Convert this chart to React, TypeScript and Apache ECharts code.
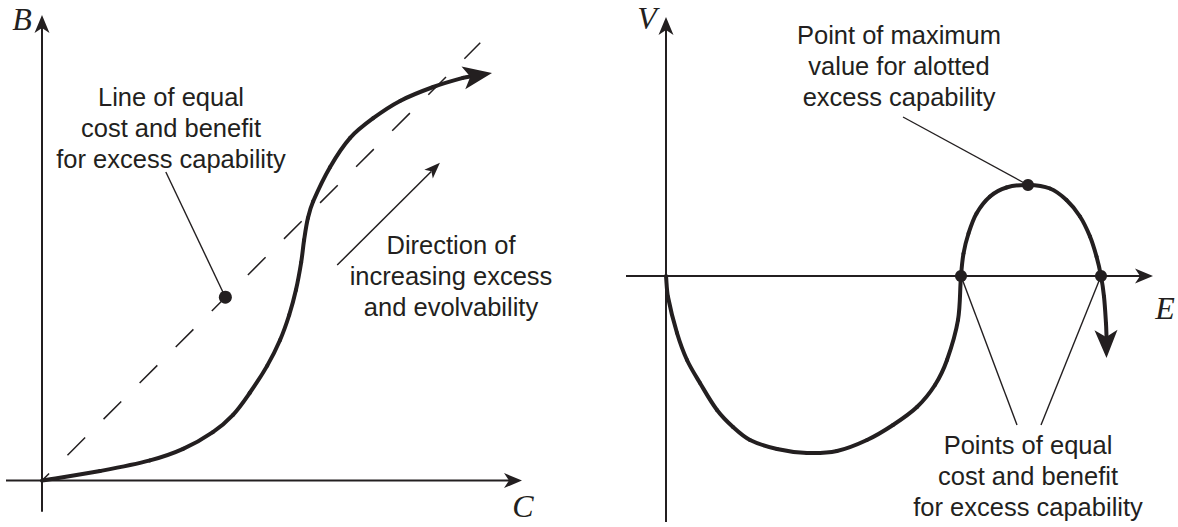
import React, { useEffect, useRef } from "react";
import * as echarts from "echarts";

const INK = "#231f20";

// ---------- Left panel: benefit B versus cost C ----------
const leftBenefitCurve: [number, number][] = [
  [0, 0], [1.21, 0.2], [2.25, 0.42], [2.94, 0.66], [3.56, 1.01], [3.98, 1.37],
  [4.33, 1.83], [4.69, 2.39], [4.96, 2.93], [5.15, 3.45], [5.29, 3.97], [5.4, 4.55],
  [5.46, 5.01], [5.54, 5.47], [5.65, 5.82], [6.0, 6.53], [6.42, 7.14], [6.9, 7.55],
  [7.46, 7.91], [8.15, 8.2], [8.77, 8.39], [9.0, 8.43],
];
const leftCurveArrow: number[][] = [[9.375, 8.49, 8.77, 8.39]];
const leftEqualLine: [number, number][] = [[0, 0], [9.13, 9.12]];
const leftEqualDot: [number, number][] = [[3.82, 3.82]];
const leftLeader: [number, number][] = [[2.58, 6.43], [3.82, 3.82]];
const leftDirectionLine: [number, number][] = [[6.15, 4.49], [8.11, 6.44]];
const leftDirectionArrow: number[][] = [[8.29, 6.62, 6.15, 4.49]];
const leftXAxisLine: [number, number][] = [[-0.75, 0], [9.8, 0]];
const leftYAxisLine: [number, number][] = [[0, -0.65], [0, 9.5]];
const leftAxisArrows: number[][] = [[10.0, 0, 9.8, 0], [0, 9.7, 0, 9.5]];

// ---------- Right panel: value V versus excess E ----------
const rightValueCurve: [number, number][] = [
  [0, 0], [0.04, -0.42], [0.22, -1.14], [0.42, -1.68], [0.68, -2.14], [1.02, -2.68],
  [1.34, -3.02], [1.68, -3.28], [2.22, -3.46], [2.82, -3.54], [3.42, -3.5], [4.02, -3.28],
  [4.54, -2.98], [5.02, -2.62], [5.38, -2.18], [5.62, -1.68], [5.84, -0.88], [5.9, 0],
  [5.95, 0.45], [6.05, 0.85], [6.21, 1.25], [6.48, 1.59], [6.81, 1.77], [7.24, 1.82],
  [7.68, 1.75], [8.01, 1.52], [8.28, 1.19], [8.48, 0.79], [8.61, 0.39], [8.7, 0],
  [8.76, -0.41], [8.8, -0.95], [8.81, -1.2],
];
const rightCurveArrow: number[][] = [[8.81, -1.64, 8.8, -1.08]];
const rightMaxDot: [number, number][] = [[7.24, 1.82]];
const rightEqualDots: [number, number][] = [[5.9, 0], [8.7, 0]];
const rightMaxLeader: [number, number][] = [[4.74, 3.18], [7.24, 1.82]];
const rightEqualLeaderA: [number, number][] = [[7.02, -2.98], [5.9, 0]];
const rightEqualLeaderB: [number, number][] = [[7.5, -2.98], [8.7, 0]];
const rightXAxisLine: [number, number][] = [[-0.8, 0], [9.5, 0]];
const rightYAxisLine: [number, number][] = [[0, -4.92], [0, 5.0]];
const rightAxisArrows: number[][] = [[9.74, 0, 9.5, 0], [0, 5.18, 0, 5.0]];

// ---------- Texts ----------
const leftNoteEqual = "Line of equal\ncost and benefit\nfor excess capability";
const leftNoteDirection = "Direction of\nincreasing excess\nand evolvability";
const rightNoteMax = "Point of maximum\nvalue for alotted\nexcess capability";
const rightNoteEqual = "Points of equal\ncost and benefit\nfor excess capability";
const axisNames = ["B", "C", "V", "E"];

function lineSeries(data: [number, number][], grid: number, width: number, extra: any = {}) {
  return {
    type: "line",
    xAxisIndex: grid,
    yAxisIndex: grid,
    data,
    symbol: "none",
    smooth: false,
    silent: true,
    clip: false,
    lineStyle: { color: INK, width, cap: "butt", join: "round", ...extra },
    z: 3,
  };
}

// Smooth curve through the read points: each item draws a cubic segment to the next point.
function curveSeries(data: [number, number][], grid: number, width: number) {
  return {
    type: "custom",
    xAxisIndex: grid,
    yAxisIndex: grid,
    data,
    clip: false,
    silent: true,
    encode: { x: 0, y: 1 },
    z: 4,
    renderItem: (params: any, api: any) => {
      const i = params.dataIndex;
      const n = data.length;
      if (i >= n - 1) return { type: "group", children: [] };
      const P = (k: number) => api.coord(data[Math.max(0, Math.min(n - 1, k))]);
      const p0 = P(i - 1), p1 = P(i), p2 = P(i + 1), p3 = P(i + 2);
      const seg = Math.hypot(p2[0] - p1[0], p2[1] - p1[1]);
      const dir = (a: number[], b: number[]) => {
        const dx = b[0] - a[0], dy = b[1] - a[1];
        const l = Math.hypot(dx, dy) || 1;
        return [dx / l, dy / l];
      };
      const d1 = dir(p0, p2);
      const d2 = dir(p1, p3);
      return {
        type: "bezierCurve",
        shape: {
          x1: p1[0], y1: p1[1], x2: p2[0], y2: p2[1],
          cpx1: p1[0] + (d1[0] * seg) / 3, cpy1: p1[1] + (d1[1] * seg) / 3,
          cpx2: p2[0] - (d2[0] * seg) / 3, cpy2: p2[1] - (d2[1] * seg) / 3,
        },
        style: { stroke: INK, lineWidth: width, fill: null, lineCap: "round" },
      };
    },
  };
}

function arrowSeries(data: number[][], grid: number, L: number, W: number, N: number) {
  return {
    type: "custom",
    xAxisIndex: grid,
    yAxisIndex: grid,
    data,
    clip: false,
    silent: true,
    encode: { x: 0, y: 1 },
    z: 5,
    renderItem: (_params: any, api: any) => {
      const t = api.coord([api.value(0), api.value(1)]);
      const f = api.coord([api.value(2), api.value(3)]);
      const a = Math.atan2(t[1] - f[1], t[0] - f[0]);
      const ux = Math.cos(a);
      const uy = Math.sin(a);
      const px = -uy;
      const py = ux;
      const points = [
        [t[0], t[1]],
        [t[0] - L * ux + W * px, t[1] - L * uy + W * py],
        [t[0] - N * ux, t[1] - N * uy],
        [t[0] - L * ux - W * px, t[1] - L * uy - W * py],
      ];
      return { type: "polygon", shape: { points }, style: { fill: INK } };
    },
  };
}

function dotSeries(data: [number, number][], grid: number, size: number) {
  return {
    type: "scatter",
    xAxisIndex: grid,
    yAxisIndex: grid,
    data,
    symbol: "circle",
    symbolSize: size,
    silent: true,
    clip: false,
    itemStyle: { color: INK, opacity: 1 },
    z: 6,
  };
}

const sans = '"Liberation Sans", Arial, Helvetica, sans-serif';
const serif = '"Liberation Serif", "Times New Roman", serif';

function note(text: string, x: number, y: number) {
  return {
    type: "text",
    x,
    y,
    silent: true,
    style: {
      text,
      fontSize: 25.5,
      fontFamily: sans,
      fill: INK,
      align: "center",
      verticalAlign: "middle",
      lineHeight: 31,
    },
  };
}

function axisName(text: string, x: number, y: number) {
  return {
    type: "text",
    x,
    y,
    silent: true,
    style: {
      text,
      fontSize: 32,
      fontStyle: "italic",
      fontFamily: serif,
      fill: INK,
      align: "center",
      verticalAlign: "middle",
    },
  };
}

export default function App() {
  const ref = useRef<HTMLDivElement>(null);

  useEffect(() => {
    document.body.style.margin = "0";
    if (!ref.current) return;
    const chart = echarts.init(ref.current, undefined, { renderer: "svg" });
    const hidden = { show: false };
    chart.setOption({
      animation: false,
      backgroundColor: "#ffffff",
      grid: [
        { left: 6, top: 15, width: 516, height: 496.8 },
        { left: 626, top: 16, width: 530, height: 507 },
      ],
      xAxis: [
        { type: "value", gridIndex: 0, min: -0.75, max: 10.0, ...hidden },
        { type: "value", gridIndex: 1, min: -0.8, max: 9.8, ...hidden },
      ],
      yAxis: [
        { type: "value", gridIndex: 0, min: -0.65, max: 9.7, ...hidden },
        { type: "value", gridIndex: 1, min: -4.94, max: 5.2, ...hidden },
      ],
      series: [
        // left panel
        lineSeries(leftXAxisLine, 0, 2),
        lineSeries(leftYAxisLine, 0, 2),
        arrowSeries(leftAxisArrows, 0, 18, 7.5, 13),
        lineSeries(leftEqualLine, 0, 1.5, { type: [25, 26], dashOffset: 15 }),
        lineSeries(leftLeader, 0, 1.4),
        lineSeries(leftDirectionLine, 0, 1.5),
        arrowSeries(leftDirectionArrow, 0, 16, 6, 12),
        curveSeries(leftBenefitCurve, 0, 4),
        arrowSeries(leftCurveArrow, 0, 29, 11.5, 22),
        dotSeries(leftEqualDot, 0, 13),
        // right panel
        lineSeries(rightXAxisLine, 1, 2),
        lineSeries(rightYAxisLine, 1, 2),
        arrowSeries(rightAxisArrows, 1, 18, 7.5, 13),
        lineSeries(rightMaxLeader, 1, 1.4),
        lineSeries(rightEqualLeaderA, 1, 1.4),
        lineSeries(rightEqualLeaderB, 1, 1.4),
        curveSeries(rightValueCurve, 1, 4),
        arrowSeries(rightCurveArrow, 1, 28, 11.5, 21),
        dotSeries(rightMaxDot, 1, 12),
        dotSeries(rightEqualDots, 1, 12),
      ],
      graphic: [
        note(leftNoteEqual, 171, 128),
        note(leftNoteDirection, 451, 276),
        note(rightNoteMax, 899, 66),
        note(rightNoteEqual, 1028, 476),
        axisName(axisNames[0], 22, 19),
        axisName(axisNames[1], 523, 506),
        axisName(axisNames[2], 647, 18),
        axisName(axisNames[3], 1165, 308),
      ],
    });
    return () => chart.dispose();
  }, []);

  return <div ref={ref} style={{ width: 1178, height: 527 }} />;
}
